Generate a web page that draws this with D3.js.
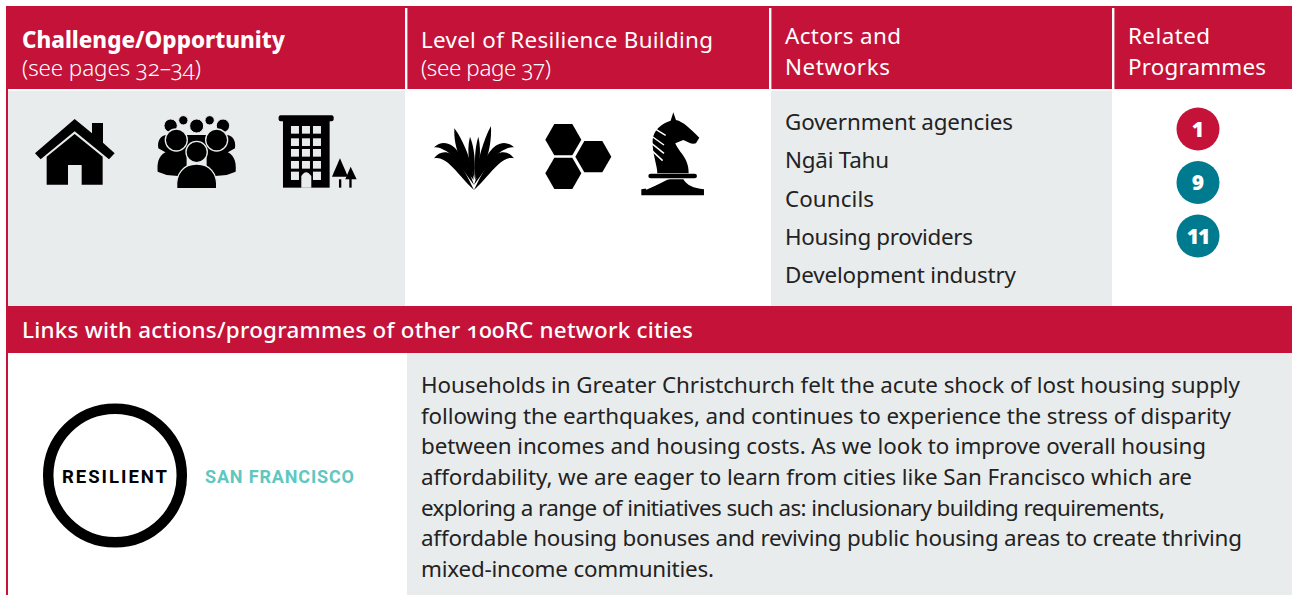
<!DOCTYPE html>
<html>
<head>
<meta charset="utf-8">
<title>Links with other network cities</title>
<script src="https://cdn.jsdelivr.net/npm/d3@7"></script>
<style>
    html, body { margin: 0; padding: 0; background: #fff; }
    svg { display: block; }
    text { font-family: "Noto Sans", sans-serif; font-feature-settings: "onum"; }
</style>
</head>
<body>
<script>
// table content
const headers = [
    { bold: "Challenge/Opportunity", sub: "(see pages 32–34)" },
    { main: "Level of Resilience Building", sub: "(see page 37)" },
    { lines: ["Actors and", "Networks"] },
    { lines: ["Related", "Programmes"] }
];
const actors = ["Government agencies", "Ngāi Tahu", "Councils", "Housing providers", "Development industry"];
const programmes = [
    { label: "1", group: "red" },
    { label: "9", group: "teal" },
    { label: "11", group: "teal" }
];
const linksTitle = "Links with actions/programmes of other 100RC network cities";
const cityLogo = ["RESILIENT", "SAN FRANCISCO"];
const paragraph = [
    "Households in Greater Christchurch felt the acute shock of lost housing supply",
    "following the earthquakes, and continues to experience the stress of disparity",
    "between incomes and housing costs. As we look to improve overall housing",
    "affordability, we are eager to learn from cities like San Francisco which are",
    "exploring a range of initiatives such as: inclusionary building requirements,",
    "affordable housing bonuses and reviving public housing areas to create thriving",
    "mixed-income communities."
];

const w = 1292, h = 595;
const red = "#c41238", teal = "#007a8f", grey = "#e9eced";
const colX = [8, 407, 771, 1114, 1292];   // column edges
const fontSize = 22.4;

// widths the text has to fill, the fonts dont quite match
const headWidths = [[263, 179], [292, 130], [116, 105], [82, 138]];
const actorWidths = [228, 104, 89, 188, 231];
const paraWidths = [819, 810, 785, 771, 744, 821, 293];

const svg = d3.select("body").append("svg").attr("width", w).attr("height", h);

// backgrounds
svg.append("rect").attr("x", 6).attr("y", 6).attr("width", w - 6).attr("height", 83).attr("fill", red);
svg.append("rect").attr("x", 6).attr("y", 6).attr("width", 2).attr("height", h - 6).attr("fill", red);
svg.append("rect").attr("x", 8).attr("y", 91).attr("width", 397).attr("height", 215).attr("fill", grey);
svg.append("rect").attr("x", 771).attr("y", 91).attr("width", 341).attr("height", 215).attr("fill", grey);
svg.append("rect").attr("x", 6).attr("y", 306).attr("width", w - 6).attr("height", 47).attr("fill", red);
svg.append("rect").attr("x", 407).attr("y", 353).attr("width", w - 407).attr("height", h - 353).attr("fill", grey);

// white separators in the header
svg.selectAll(".sep").data(colX.slice(1, 4)).enter().append("rect")
    .attr("class", "sep")
    .attr("x", d => d - 2).attr("y", 8).attr("width", 2.4).attr("height", 81)
    .attr("fill", "#fff");

// header text
let headG = svg.append("g").attr("fill", "#fff").attr("font-size", fontSize);
headers.forEach((d, i) => {
    let x = colX[i] + 14;
    if (d.lines) {
        d.lines.forEach((t, j) => {
            headG.append("text").attr("x", x).attr("y", 44 + j * 31)
                .attr("textLength", headWidths[i][j]).text(t);
        });
    } else {
        headG.append("text").attr("x", x).attr("y", 48)
            .attr("font-weight", d.bold ? 800 : 400)
            .attr("textLength", headWidths[i][0]).text(d.bold || d.main);
        headG.append("text").attr("x", x).attr("y", 76)
            .attr("font-weight", 350)
            .attr("textLength", headWidths[i][1]).text(d.sub);
    }
});

// actors list
let actorY = d3.scalePoint().domain(actors).range([130, 283]);
svg.selectAll(".actor").data(actors).enter().append("text")
    .attr("class", "actor")
    .attr("x", 785).attr("y", d => actorY(d))
    .attr("font-size", fontSize).attr("fill", "#222")
    .attr("textLength", (d, i) => actorWidths[i])
    .text(d => d);

// programme badges
let progY = d3.scalePoint().domain(programmes.map(d => d.label)).range([129, 236]);
let progColor = d3.scaleOrdinal().domain(["red", "teal"]).range([red, teal]);
let badge = svg.selectAll(".badge").data(programmes).enter().append("g")
    .attr("class", "badge")
    .attr("transform", d => `translate(1198, ${progY(d.label)})`);
badge.append("circle").attr("r", 21.5).attr("fill", d => progColor(d.group));
badge.append("text").attr("text-anchor", "middle").attr("y", 7.5)
    .attr("font-size", 21).attr("font-weight", 900).attr("fill", "#fff")
    .attr("letter-spacing", d => d.label.length > 1 ? -1 : 0)
    .style("font-feature-settings", "'lnum'")
    .text(d => d.label);

// links band
svg.append("text").attr("x", 22).attr("y", 338)
    .attr("font-size", fontSize).attr("font-weight", 500).attr("fill", "#fff")
    .attr("textLength", 671)
    .text(linksTitle);

// paragraph
let paraY = d3.scalePoint().domain(d3.range(paragraph.length)).range([393, 577]);
svg.selectAll(".para").data(paragraph).enter().append("text")
    .attr("class", "para")
    .attr("x", 421).attr("y", (d, i) => paraY(i))
    .attr("font-size", fontSize).attr("fill", "#222")
    .attr("textLength", (d, i) => paraWidths[i])
    .text(d => d);

// logo
svg.append("circle").attr("cx", 115).attr("cy", 475.5).attr("r", 66.8)
    .attr("fill", "none").attr("stroke", "#000").attr("stroke-width", 10.5);
svg.append("text").attr("x", 62).attr("y", 483)
    .attr("font-size", 18.5).attr("font-weight", 700).attr("fill", "#000")
    .attr("textLength", 105)
    .style("font-family", "Roboto").text(cityLogo[0]);
svg.append("text").attr("x", 205).attr("y", 483)
    .attr("font-size", 18).attr("font-weight", 700).attr("fill", "#5fc7bf")
    .attr("textLength", 149)
    .style("font-family", "Roboto").text(cityLogo[1]);

// icons, drawn at 3x and scaled down
let iconsA = svg.append("g").attr("transform", "scale(0.3333)");
let iconsB = svg.append("g").attr("transform", "translate(400, 90) scale(0.3333)");

// house
iconsA.append("path").attr("d", "M224,357 L276,400 L276,369 L309,369 L309,428 L344,460 L327,478 L224,394 L122,478 L105,460 Z");
iconsA.append("path").attr("d", "M224,402 L308,470 L308,554 L245,554 L245,495 L204,495 L204,554 L140,554 L140,470 Z");

// people
let backHeads = [[512, 377, 20], [550, 361, 14], [590, 378, 21], [629, 361, 14], [669, 377, 20]];
iconsA.append("path").attr("d", "M475,445 C470,415 490,400 510,405 L670,405 C690,400 710,415 705,445 L660,470 L520,470 Z");
iconsA.selectAll(".bh").data(backHeads).enter().append("circle")
    .attr("class", "bh").attr("cx", d => d[0]).attr("cy", d => d[1]).attr("r", d => d[2])
    .attr("stroke", grey).attr("stroke-width", 3);
iconsA.append("path").attr("d", "M473,515 C470,480 480,462 505,452 L560,460 L560,530 L500,525 Z");
iconsA.append("path").attr("d", "M707,515 C710,480 700,462 675,452 L620,460 L620,530 L680,525 Z");
[[529, 420], [650, 420]].forEach(c => {
    iconsA.append("circle").attr("cx", c[0]).attr("cy", c[1]).attr("r", 33).attr("stroke", grey).attr("stroke-width", 4);
});
iconsA.append("circle").attr("cx", 590).attr("cy", 456).attr("r", 32).attr("stroke", grey).attr("stroke-width", 4);
iconsA.append("path").attr("stroke", grey).attr("stroke-width", 4)
    .attr("d", "M530,566 C526,520 552,492 590,492 C628,492 654,520 650,566 Z");

// building
iconsA.append("rect").attr("x", 836).attr("y", 346).attr("width", 165).attr("height", 18).attr("rx", 6);
iconsA.append("rect").attr("x", 849).attr("y", 360).attr("width", 140).attr("height", 203);
[378, 415, 447, 483, 515].forEach(y => {
    [873, 906, 939].forEach(x => {
        if (y == 515 && x == 906) return;  // door goes here
        iconsA.append("rect").attr("x", x).attr("y", y).attr("width", 24).attr("height", y == 515 ? 25 : 23).attr("fill", grey);
    });
});
iconsA.append("path").attr("fill", grey).attr("d", "M904,563 L904,528 Q918,505 934,528 L934,563 Z");
iconsA.append("path").attr("d", "M1020,475 L1044,530 L996,530 Z");
iconsA.append("rect").attr("x", 1017).attr("y", 538).attr("width", 7).attr("height", 25);
iconsA.append("path").attr("d", "M1052,500 L1070,538 L1036,538 Z");
iconsA.append("rect").attr("x", 1048).attr("y", 530).attr("width", 7).attr("height", 33);

// plant, outer blades mirrored to the right
let blades = [
    "M102,172 C125,150 155,155 178,190 C195,215 212,255 222,285 C195,250 165,200 140,184 C125,175 112,170 102,172 Z",
    "M102,205 C120,180 150,180 172,210 C190,235 210,275 222,300 C195,275 170,242 150,224 C135,210 118,200 102,205 Z"
];
blades.forEach(b => {
    iconsB.append("path").attr("d", b);
    iconsB.append("path").attr("d", b).attr("transform", "translate(444, 0) scale(-1, 1)");
});
iconsB.append("path").attr("d", "M163,115 C190,150 216,215 221,270 C192,238 160,180 163,115 Z");
iconsB.append("path").attr("d", "M273,108 C276,180 252,238 225,270 C232,215 250,150 273,108 Z");
iconsB.append("path").attr("d", "M210,140 C224,175 227,220 223,265 C210,235 198,185 210,140 Z");
iconsB.append("path").attr("d", "M235,140 C246,185 237,235 226,265 C223,220 224,175 235,140 Z");

// hexagons
let hexPath = d3.line();
let hexR = 54;
[[490, 149], [580, 200], [490, 250]].forEach(c => {
    let pts = d3.range(6).map(i => [
        c[0] + hexR * Math.cos(i * Math.PI / 3),
        c[1] + hexR * Math.sin(i * Math.PI / 3)
    ]);
    iconsB.append("path").attr("d", hexPath(pts) + "Z");
});

// knight
iconsB.append("path").attr("d", "M772,250 C772,225 756,190 758,150 C760,120 785,100 812,92 L820,67 L828,90 C850,95 870,115 898,143 L888,160 C875,165 865,155 850,150 L826,160 C835,185 868,205 866,250 Z");
[[758, 112, 797, 136], [750, 135, 792, 165], [752, 158, 792, 190], [758, 184, 788, 212]].forEach(s => {
    iconsB.append("line").attr("x1", s[0]).attr("y1", s[1]).attr("x2", s[2]).attr("y2", s[3])
        .attr("stroke", "#fff").attr("stroke-width", 4.5);
});
iconsB.append("rect").attr("x", 745).attr("y", 251).attr("width", 146).attr("height", 14).attr("rx", 7);
iconsB.append("path").attr("d", "M724,316 L724,298 C770,295 790,270 810,268 L850,268 C860,285 880,295 912,298 L912,316 Z");
iconsB.append("path").attr("d", "M738,297 C755,292 770,282 778,270").attr("fill", "none").attr("stroke", "#fff").attr("stroke-width", 4);
</script>
</body>
</html>
